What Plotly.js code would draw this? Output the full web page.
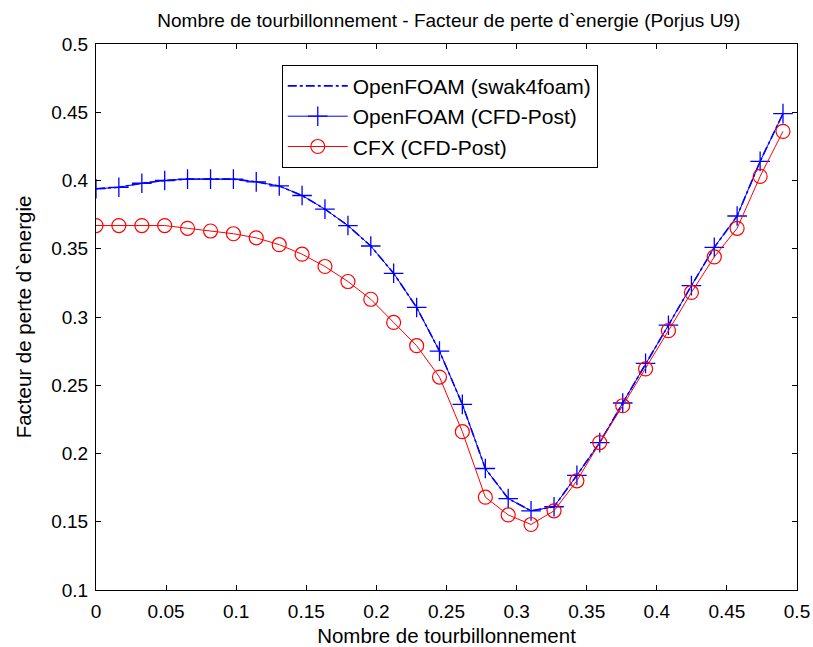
<!DOCTYPE html>
<html>
<head>
<meta charset="utf-8">
<script src="https://cdn.plot.ly/plotly-3.0.1.min.js"></script>
<style>html,body{margin:0;padding:0;background:#fff;}#chart{width:813px;height:647px;}</style>
</head>
<body>
<div id="chart"></div>
<script>
// Swirl number samples (31 points, 0 .. 0.49)
const swirlNumber = [0, 0.0163, 0.0327, 0.049, 0.0653, 0.0817, 0.098, 0.1143, 0.1307, 0.147, 0.1633,
  0.1797, 0.196, 0.2123, 0.2287, 0.245, 0.2613, 0.2777, 0.294, 0.3103, 0.3267,
  0.343, 0.3593, 0.3757, 0.392, 0.4083, 0.4247, 0.441, 0.4573, 0.4737, 0.49];

const openfoamSwak = [0.394, 0.395, 0.398, 0.400, 0.401, 0.401, 0.401, 0.399, 0.396, 0.389, 0.379,
  0.367, 0.352, 0.332, 0.307, 0.275, 0.236, 0.189, 0.167, 0.158, 0.161,
  0.184, 0.208, 0.237, 0.266, 0.294, 0.323, 0.351, 0.374, 0.414, 0.449];

const openfoamCfdPost = [0.394, 0.395, 0.398, 0.400, 0.401, 0.401, 0.401, 0.399, 0.396, 0.389, 0.379,
  0.367, 0.352, 0.332, 0.307, 0.275, 0.236, 0.189, 0.167, 0.158, 0.161,
  0.184, 0.208, 0.237, 0.266, 0.294, 0.323, 0.351, 0.374, 0.414, 0.449];

const cfxCfdPost = [0.367, 0.367, 0.367, 0.367, 0.365, 0.363, 0.361, 0.358, 0.353, 0.346, 0.337,
  0.326, 0.313, 0.296, 0.279, 0.256, 0.216, 0.168, 0.155, 0.148, 0.158,
  0.180, 0.208, 0.235, 0.262, 0.290, 0.318, 0.344, 0.365, 0.403, 0.436];

const seriesNames = ['OpenFOAM (swak4foam)', 'OpenFOAM (CFD-Post)', 'CFX (CFD-Post)'];
const xTicks = [0, 0.05, 0.1, 0.15, 0.2, 0.25, 0.3, 0.35, 0.4, 0.45, 0.5];
const yTicks = [0.1, 0.15, 0.2, 0.25, 0.3, 0.35, 0.4, 0.45, 0.5];
const xTickLabels = ['0', '0.05', '0.1', '0.15', '0.2', '0.25', '0.3', '0.35', '0.4', '0.45', '0.5'];
const yTickLabels = ['0.1', '0.15', '0.2', '0.25', '0.3', '0.35', '0.4', '0.45', '0.5'];

const FONT = 'Liberation Sans, Arial, sans-serif';

const traces = [
  {x: swirlNumber, y: openfoamSwak, name: seriesNames[0], mode: 'lines',
   line: {color: '#0000ff', width: 1.6, dash: 'dashdot'}},
  {x: swirlNumber, y: openfoamCfdPost, name: seriesNames[1], mode: 'lines+markers',
   line: {color: '#0000ff', width: 1},
   marker: {symbol: 'cross-thin-open', size: 14, color: '#0000ff', line: {color: '#0000ff', width: 1.3}}},
  {x: swirlNumber, y: cfxCfdPost, name: seriesNames[2], mode: 'lines+markers',
   line: {color: '#ff0000', width: 1},
   marker: {symbol: 'circle-open', size: 14, color: '#ff0000', line: {color: '#ff0000', width: 1.2}}}
];

const axisCommon = {
  showgrid: false, zeroline: false, showline: true, mirror: 'ticks',
  linecolor: '#000', linewidth: 1, ticks: 'inside', ticklen: 5, tickcolor: '#000',
  tickfont: {family: FONT, size: 19, color: '#000'}
};

const layout = {
  width: 813, height: 647,
  paper_bgcolor: '#fff', plot_bgcolor: '#fff',
  margin: {l: 96, r: 16, t: 44, b: 57},
  font: {family: FONT, color: '#000'},
  title: {text: 'Nombre de tourbillonnement - Facteur de perte d`energie (Porjus U9)',
    font: {family: FONT, size: 19, color: '#000'}, x: 0.552, xanchor: 'center',
    yref: 'container', y: 1 - 20 / 647, yanchor: 'middle'},
  xaxis: Object.assign({}, axisCommon, {
    range: [0, 0.5], tickvals: xTicks, ticktext: xTickLabels, ticklabelstandoff: 4,
    title: {text: 'Nombre de tourbillonnement', font: {family: FONT, size: 20.5, color: '#000'}, standoff: 7}
  }),
  yaxis: Object.assign({}, axisCommon, {
    range: [0.1, 0.5], tickvals: yTicks, ticktext: yTickLabels, ticklabelstandoff: 3,
    title: {text: 'Facteur de perte d`energie', font: {family: FONT, size: 20.5, color: '#000'}, standoff: 14}
  }),
  legend: {x: 0.265, y: 0.962, xanchor: 'left', yanchor: 'top',
    bgcolor: '#fff', bordercolor: '#000', borderwidth: 1,
    font: {family: FONT, size: 21, color: '#000'}, tracegroupgap: 0, itemwidth: 60},
  showlegend: true
};

Plotly.newPlot('chart', traces, layout, {displayModeBar: false, staticPlot: true});
</script>
</body>
</html>
